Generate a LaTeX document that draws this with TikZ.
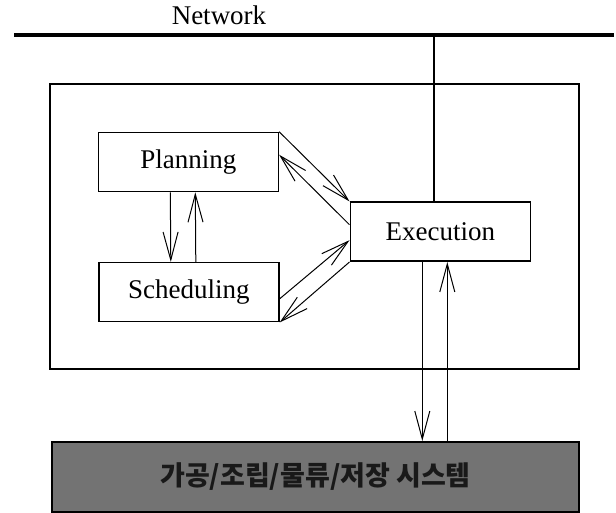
\documentclass[tikz,border=0pt]{standalone}
\usepackage{fontspec}
\setmainfont{Liberation Serif}
\newfontfamily\krfont{Noto Sans CJK KR}
\usepackage{xcolor}
\usepackage{tikz}
\usetikzlibrary{calc, arrows.meta, positioning}

\tikzset{
    khoi/.style={draw, line width=0.8pt, minimum width=90pt, minimum height=29.5pt,
        inner sep=0pt, font=\fontsize{13.5}{16}\selectfont},
    muiten/.style={->, line width=0.5pt}
}

\begin{document}
\begin{tikzpicture}[>={Straight Barb[length=14pt, width=7.5pt]}, x=0.5pt, y=-0.5pt]
    % Khung ảnh
    \useasboundingbox (0,0) rectangle (616,513);

    % Đường mạng phía trên và nhãn
    \node[anchor=base, font=\fontsize{13.5}{16}\selectfont] (net) at (219,25) {Network};
    \coordinate (netL) at (14,35.5);
    \coordinate (netR) at (614,35.5);
    \draw[line width=2pt] (netL) -- (netR);

    % Khung điều khiển bên ngoài
    \draw[line width=1pt] (50,84.3) rectangle (578.5,369.3);

    % Các khối chức năng
    \node[khoi] (P) at (188.3,162) {Planning};
    \node[khoi] (S) at (188.8,292.2) {Scheduling};
    \node[khoi] (E) at (440.3,231.7) {Execution};

    % Hệ thống phía dưới (nền xám)
    \node[draw, line width=1pt, fill=black!55, minimum width=263.8pt, minimum height=35pt,
        inner sep=0pt, font=\krfont\bfseries\fontsize{13.5}{16}\selectfont, text=black!90]
        (H) at (315.5,477) {가공/조립/물류/저장 시스템};

    % Nối mạng xuống Execution
    \coordinate (tap) at (434,35.5);
    \draw[line width=0.6pt] (tap) -- (tap |- E.north);

    % Planning <-> Scheduling
    \draw[muiten] ([xshift=-9pt]P.south) -- ([xshift=-9pt]S.north);
    \draw[muiten] ([xshift=3.5pt]S.north) -- ([xshift=3.5pt]P.south);

    % Planning <-> Execution
    \draw[muiten] (P.north east) -- (E.north west);
    \draw[muiten] ($(E.north west)!0.385!(E.south west)$) -- ($(P.north east)!0.38!(P.south east)$);

    % Scheduling <-> Execution
    \draw[muiten] ($(S.north east)!0.61!(S.south east)$) -- ($(E.north west)!0.64!(E.south west)$);
    \draw[muiten] (E.south west) -- (S.south east);

    % Execution <-> hệ thống
    \draw[muiten] ([xshift=-9pt]E.south) -- ([xshift=-9pt]E.south |- H.north);
    \draw[muiten] ([xshift=3.5pt]E.south |- H.north) -- ([xshift=3.5pt]E.south);
\end{tikzpicture}
\end{document}
